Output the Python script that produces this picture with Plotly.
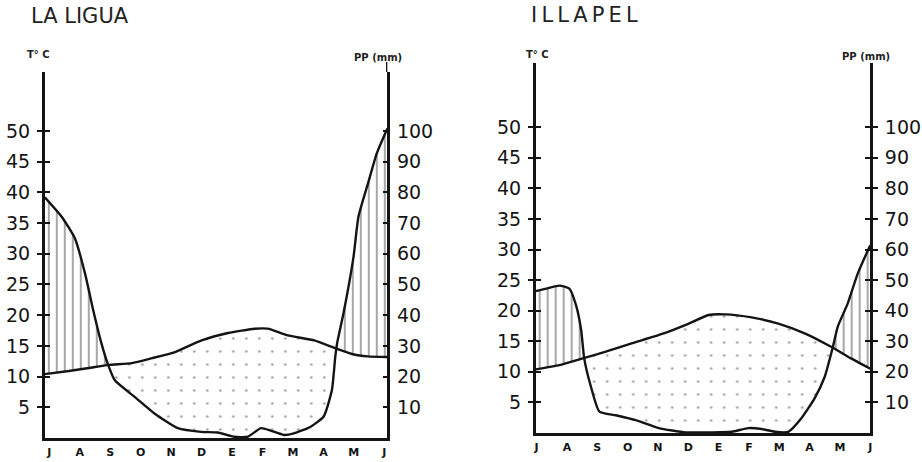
import numpy as np
import plotly.graph_objects as go

# ---------------- data ----------------
months = ["J", "A", "S", "O", "N", "D", "E", "F", "M", "A", "M", "J"]
month_pos = list(range(12))
temp_ticks = [5, 10, 15, 20, 25, 30, 35, 40, 45, 50]
prec_ticks = [10, 20, 30, 40, 50, 60, 70, 80, 90, 100]

# LA LIGUA  (x in months from July = 0)
ligua_temp_x = [-0.15, 0.64, 1.3, 1.95, 2.71, 3.37, 4.13, 5.0, 5.87, 6.74, 7.17, 7.83, 8.7, 9.41, 10.0, 10.45, 11.1]
ligua_temp_c = [10.4, 10.9, 11.4, 11.9, 12.2, 13.0, 14.0, 15.9, 17.1, 17.8, 17.8, 16.7, 15.9, 14.6, 13.6, 13.3, 13.2]
ligua_prec_x = [-0.15, 0.41, 0.84, 1.17, 1.44, 1.71, 1.93, 2.15, 2.80, 3.45, 4.22, 4.98, 5.53, 6.07, 6.51,
                6.95, 7.27, 7.70, 8.03, 8.57, 9.01, 9.28, 9.39, 9.45, 9.66, 9.99, 10.15, 10.48, 10.75, 11.1]
ligua_prec_mm = [78.4, 72.0, 65.0, 53.6, 41.6, 30.8, 23.8, 18.8, 13.4, 8.0, 3.2, 2.0, 1.8, 0.4, 0.4,
                 3.2, 2.4, 1.0, 1.5, 3.6, 7.0, 15.6, 26.4, 30.8, 40.6, 59.0, 72.0, 83.4, 92.6, 100.8]

# ILLAPEL
illapel_temp_x = [-0.03, 0.75, 1.52, 2.28, 3.16, 4.14, 5.02, 5.67, 6.22, 7.09, 7.97, 8.84, 9.71, 10.37, 11.0]
illapel_temp_c = [10.4, 11.1, 12.2, 13.3, 14.7, 16.2, 17.9, 19.3, 19.4, 18.9, 17.9, 16.3, 14.1, 12.2, 10.5]
illapel_prec_x = [-0.03, 0.32, 0.75, 1.08, 1.30, 1.47, 1.57, 1.79, 2.07, 2.61, 3.27, 4.03, 4.91, 5.78,
                  6.44, 6.98, 7.42, 7.86, 8.30, 8.73, 9.17, 9.50, 9.77, 9.93, 10.26, 10.59, 11.0]
illapel_prec_mm = [46.4, 47.2, 48.2, 47.2, 41.8, 33.6, 24.4, 15.2, 7.0, 5.8, 4.2, 1.6, 0.2, 0.2,
                   0.4, 1.6, 1.3, 0.4, 0.4, 4.8, 11.4, 18.4, 28.2, 34.8, 42.4, 52.2, 61.4]

# ---------------- figure ----------------
W, H = 922, 462
INK = "#141414"
FONT = "DejaVu Sans"

fig = go.Figure()


def add_panel(tx, tc, px, pmm, xa, ya, ya2):
    # Walter-Lieth: 10 degC = 20 mm, so precipitation/2 lies on the temperature axis
    xs = np.linspace(min(tx[0], px[0]), max(tx[-1], px[-1]), 2000)
    t = np.interp(xs, tx, tc)
    p = np.interp(xs, px, np.array(pmm) / 2.0)
    hi = np.maximum(t, p)
    lo = np.minimum(t, p)
    base = dict(mode="lines", line=dict(width=0), hoverinfo="skip", showlegend=False,
                xaxis=xa, yaxis=ya)
    # humid period: vertical hatching
    fig.add_trace(go.Scatter(x=xs, y=t, **base))
    fig.add_trace(go.Scatter(x=xs, y=hi, fill="tonexty", fillcolor="rgba(0,0,0,0)",
                             fillpattern=dict(shape="|", size=8, solidity=0.17,
                                              fgcolor="#000", bgcolor="rgba(0,0,0,0)"),
                             **base))
    # dry period: dots
    fig.add_trace(go.Scatter(x=xs, y=lo, **base))
    fig.add_trace(go.Scatter(x=xs, y=t, fill="tonexty", fillcolor="rgba(0,0,0,0)",
                             fillpattern=dict(shape=".", size=13, solidity=0.03,
                                              fgcolor="#444", bgcolor="rgba(0,0,0,0)"),
                             **base))
    # curves
    fig.add_trace(go.Scatter(x=tx, y=tc, mode="lines", line=dict(color=INK, width=2.4, shape="spline", smoothing=0.5),
                             showlegend=False, xaxis=xa, yaxis=ya))
    fig.add_trace(go.Scatter(x=px, y=pmm, mode="lines", line=dict(color=INK, width=2.4, shape="spline", smoothing=0.5),
                             showlegend=False, xaxis=xa, yaxis=ya2))


add_panel(ligua_temp_x, ligua_temp_c, ligua_prec_x, ligua_prec_mm, "x", "y", "y2")
add_panel(illapel_temp_x, illapel_temp_c, illapel_prec_x, illapel_prec_mm, "x2", "y3", "y4")

# empty traces to register the tick-only overlay axes (ticks crossing the axis line)
for ya, xa in (("y5", "x"), ("y6", "x2"), ("y7", "x2")):
    fig.add_trace(go.Scatter(x=[], y=[], xaxis=xa, yaxis=ya, showlegend=False))

tickfont = dict(family=FONT, size=19, color=INK)
monthfont = dict(family=FONT, size=11, color=INK, weight="bold")

def xax(domain, rng, anchor):
    return dict(domain=domain, range=rng, anchor=anchor, tickvals=month_pos, ticktext=months,
                tickfont=monthfont, ticks="", showgrid=False, zeroline=False,
                showline=True, linecolor=INK, linewidth=2.6, ticklabelstandoff=2, fixedrange=True)

def yax(domain, rng, anchor, vals, side="left", ticks="outside", labels=True, line=True, overlay=None):
    d = dict(range=rng, anchor=anchor, tickvals=vals, ticks=ticks, ticklen=5, tickwidth=1.6,
             tickcolor=INK, showticklabels=labels, tickfont=tickfont, side=side,
             showgrid=False, zeroline=False, showline=line, linecolor=INK, linewidth=2.6,
             ticklabelstandoff=3, fixedrange=True)
    if overlay:
        d["overlaying"] = overlay
    else:
        d["domain"] = domain
    return d

L_dom_x = [43 / W, 387 / W]
R_dom_x = [536 / W, 872 / W]
L_dom_y = [(H - 438) / H, (H - 72) / H]
R_dom_y = [(H - 433) / H, (H - 63) / H]
L_rng = [0, 59.6]
R_rng = [0, 60.5]

fig.update_layout(
    width=W, height=H,
    margin=dict(l=0, r=0, t=0, b=0),
    paper_bgcolor="white", plot_bgcolor="rgba(0,0,0,0)",
    showlegend=False,
    xaxis=xax(L_dom_x, [-0.15, 11.1], "y"),
    xaxis2=xax(R_dom_x, [-0.03, 11.0], "y3"),
    yaxis=yax(L_dom_y, L_rng, "x", temp_ticks),
    yaxis2=yax(None, [2 * v for v in L_rng], "x", prec_ticks, side="right", ticks="inside", overlay="y"),
    yaxis3=yax(R_dom_y, R_rng, "x2", temp_ticks),
    yaxis4=yax(None, [2 * v for v in R_rng], "x2", prec_ticks, side="right", ticks="outside", overlay="y3"),
    yaxis5=yax(None, L_rng, "x", temp_ticks, ticks="inside", labels=False, line=False, overlay="y"),
    yaxis6=yax(None, R_rng, "x2", temp_ticks, ticks="inside", labels=False, line=False, overlay="y3"),
    yaxis7=yax(None, [2 * v for v in R_rng], "x2", prec_ticks, side="right", ticks="inside",
               labels=False, line=False, overlay="y3"),
)

# right axis of La Ligua reaches a little higher than the left one
fig.add_shape(type="line", xref="x", yref="paper", x0=11.1, x1=11.1,
              y0=(H - 72) / H, y1=(H - 62) / H, line=dict(color=INK, width=2.6))

def txt(x, y, s, size, bold=False, anchor="center"):
    fig.add_annotation(x=x / W, y=1 - y / H, xref="paper", yref="paper", text=s, showarrow=False,
                       xanchor=anchor, yanchor="middle",
                       font=dict(family=FONT, size=size, color="#222", weight="bold" if bold else "normal"))

txt(27, 16, "LA LIGUA", 21, anchor="left")
txt(529, 15, "I\u2009L\u2009L\u2009A\u2009P\u2009E\u2009L", 21, anchor="left")
txt(37, 54, "T° C", 10, bold=True)
txt(378, 58, "PP (mm)", 10, bold=True)
txt(538, 54, "T° C", 10, bold=True)
txt(868, 57, "PP (mm)", 10, bold=True)

fig.write_html("out.html", config={"displayModeBar": False},
               post_script="document.body.style.margin='0';document.body.style.overflow='hidden';")
